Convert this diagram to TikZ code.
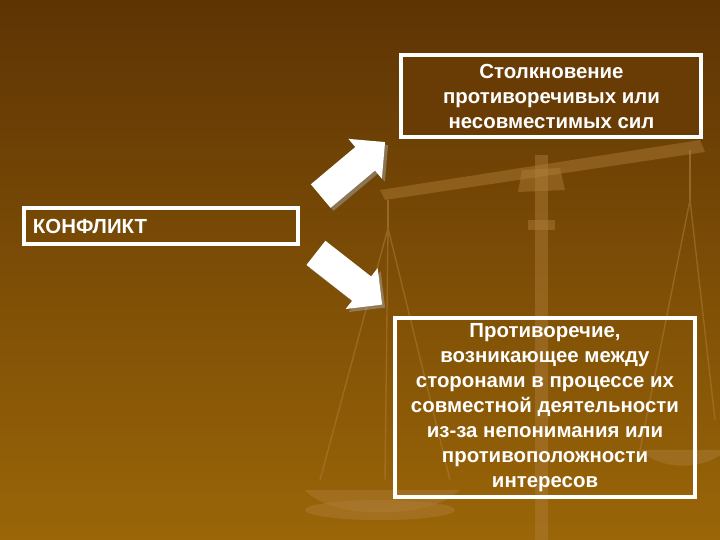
\documentclass[tikz,border=0pt]{standalone}
\usepackage{fontspec}
\setmainfont{Liberation Sans}
\usetikzlibrary{shapes.arrows,shadows}
\definecolor{bgtop}{HTML}{5E3404}
\definecolor{bgbot}{HTML}{9A6608}
\definecolor{scl}{HTML}{B07E3A}
\definecolor{boxfill}{HTML}{6A3C06}
\begin{document}
\begin{tikzpicture}[x=0.5pt,y=-0.5pt,
  box/.style={draw=white,line width=2pt,inner sep=0pt,text=white,font=\bfseries\fontsize{10.2}{12.5}\selectfont,align=center},
  blockarrow/.style={single arrow,fill=white,draw=none,minimum height=42pt,minimum width=26pt,single arrow head extend=5pt,single arrow head indent=0pt,inner xsep=0pt,inner ysep=7pt,drop shadow={shadow xshift=1.5pt,shadow yshift=-1.5pt,fill=gray!70}},
  scalepart/.style={fill=scl,opacity=0.45}]
\useasboundingbox (0,0) rectangle (720,540);
\shade[top color=bgtop,bottom color=bgbot] (0,0) rectangle (720,540);
% scales (background picture)
\fill[scalepart] (380,190) -- (700,140) -- (705,152) -- (385,200) -- cycle;
\fill[scalepart] (535,155) rectangle (548,540);
\fill[scalepart] (522,170) -- (560,168) -- (565,190) -- (518,192) -- cycle;
\fill[scalepart] (528,220) rectangle (555,230);
\draw[scl,opacity=0.6,line width=0.8pt] (388,200) -- (388,228);
\draw[scl,opacity=0.6,line width=0.8pt] (690,150) -- (690,200);
\draw[scl,opacity=0.5,line width=0.7pt] (388,228) -- (320,480) (388,228) -- (450,480) (388,228) -- (385,480);
\draw[scl,opacity=0.5,line width=0.7pt] (690,200) -- (640,450) (690,200) -- (715,420);
\fill[scalepart] (305,490) .. controls (330,520) and (430,520) .. (460,490) -- cycle;
\fill[scalepart] (380,510) ellipse (75 and 10);
\fill[scalepart] (640,450) .. controls (660,470) and (700,470) .. (720,455) -- (720,450) -- cycle;
% boxes
\node[box,fill=boxfill,fill opacity=0.8,text opacity=1,minimum width=150pt,minimum height=41pt] (top) at (551.5,96) {Столкновение\\противоречивых или\\несовместимых сил};
\node[box,minimum width=137pt,minimum height=18pt,anchor=west,text width=130pt,align=left] (konf) at (22,226) {\hspace*{1pt}КОНФЛИКТ};
\node[box,minimum width=150pt,minimum height=89.5pt] (bot) at (545,407.5) {Противоречие,\\возникающее между\\сторонами в процессе их\\совместной деятельности\\из-за непонимания или\\противоположности\\интересов};
% arrows
\node[blockarrow,rotate=40] (a1) at (347,174) {};
\node[blockarrow,rotate=-38] (a2) at (343,274) {};
\end{tikzpicture}
\end{document}
